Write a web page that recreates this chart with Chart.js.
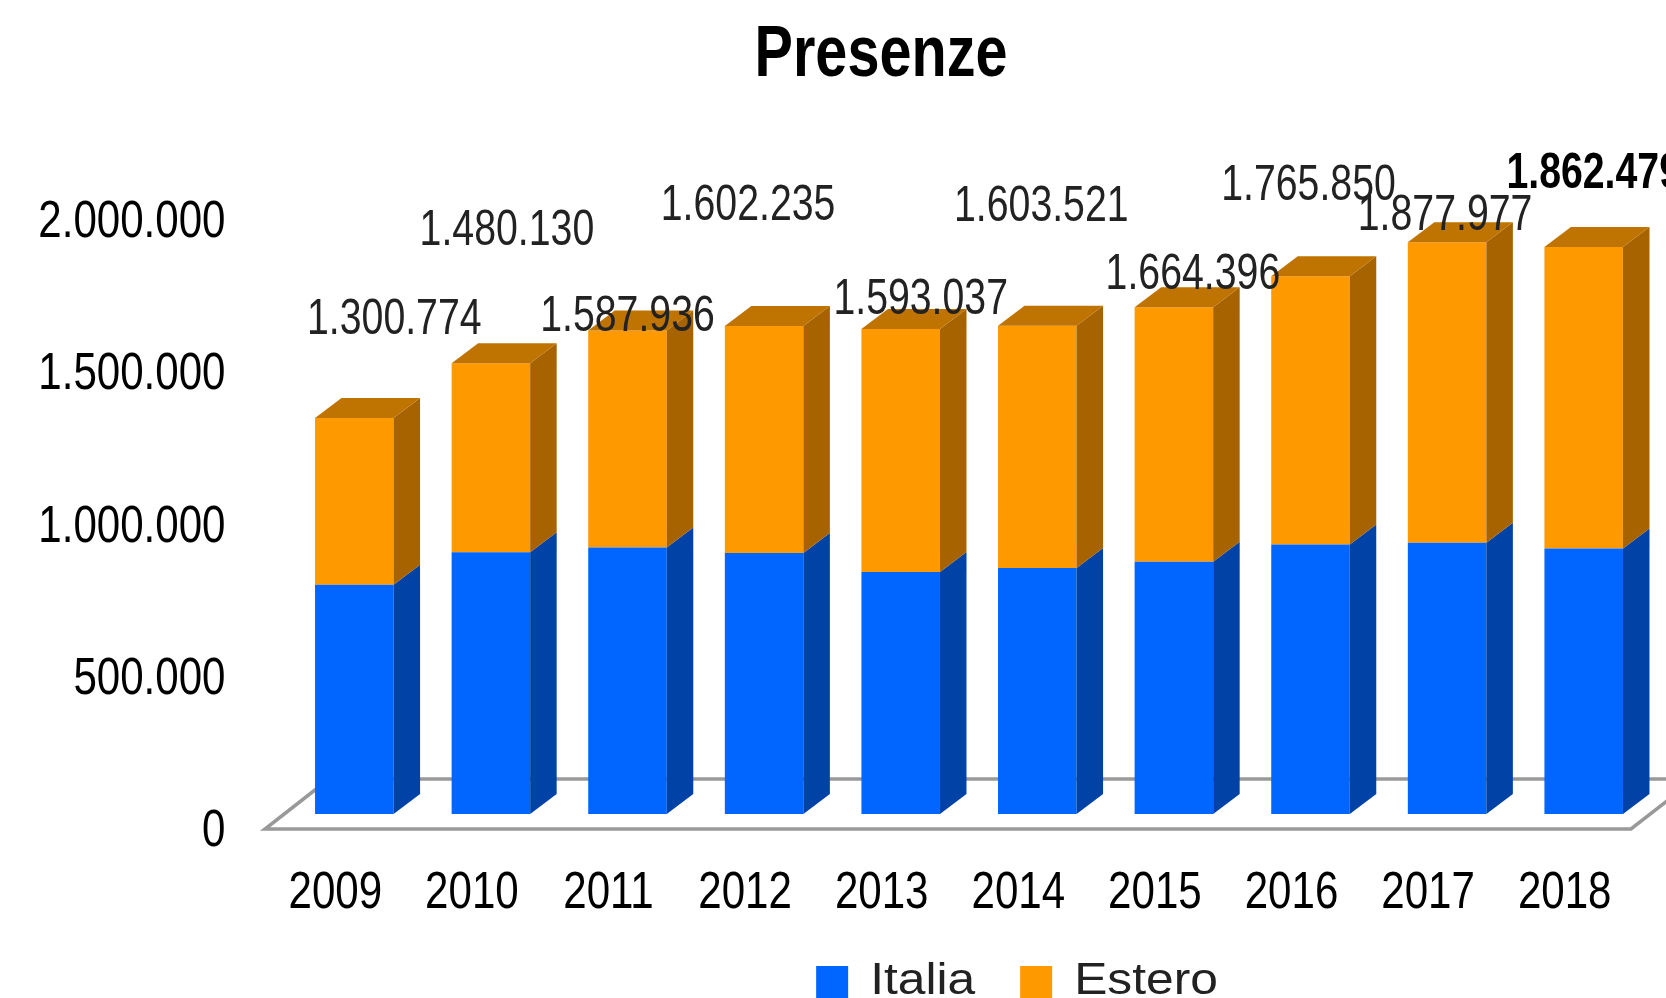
<!DOCTYPE html>
<html><head><meta charset="utf-8">
<style>html,body{margin:0;padding:0;background:#fff}#w{width:1666px;height:998px}</style>
<script src="https://cdn.jsdelivr.net/npm/chart.js@4/dist/chart.umd.min.js"></script>
</head><body><div id="w"><canvas id="c"></canvas></div>
<script>
const years = ['2009','2010','2011','2012','2013','2014','2015','2016','2017','2018'];
const italia = [753000,860000,875000,857000,795000,808000,828000,885000,891000,872000];
const estero = [547774,620130,712936,745235,798037,795521,836396,880850,986977,990479];
const totali = [1300774,1480130,1587936,1602235,1593037,1603521,1664396,1765850,1877977,1862479];
const yTicks = [0,500000,1000000,1500000,2000000];
const labelDx = [40,16,0,-16,20,4,19,-2,-2,10];
const labelDy = [-98,-132,-13,-120,-29,-119,-32,-90,-26,-73];
const FONT = '"Liberation Sans",Arial,sans-serif';
const fmt = v => String(v).replace(/\B(?=(\d{3})+$)/g,'.');
const DX = 26.5, DY = 20;
const sideCol = {Italia:'#0042a6',Estero:'#a66300'};
const topCol = '#bf7300';
// The reference text is condensed horizontally (and the legend stretched): width factor per font size
const widthFactor = {72:.8, 51:.825, 50:.785, 44:1.13};
const legendGap = {Italia:31};

const canvas = document.getElementById('c');
const ctx2d = canvas.getContext('2d');
const rawFill = ctx2d.fillText.bind(ctx2d);
const rawMeasure = ctx2d.measureText.bind(ctx2d);
const factor = () => { const m = /(\d+(?:\.\d+)?)px/.exec(ctx2d.font); return (m && widthFactor[parseInt(m[1])]) || 1; };
ctx2d.fillText = function(t,x,y){
  const sx = factor();
  ctx2d.save(); ctx2d.translate(x,y); ctx2d.scale(sx,1); rawFill(t,0,0); ctx2d.restore();
};
ctx2d.measureText = function(t){
  const w = rawMeasure(t).width*factor() + (legendGap[t]||0);
  return {width:w};
};

const scene = {
  id:'scene',
  afterLayout(chart){
    chart.titleBlock.left += 55; chart.titleBlock.right += 55;
    chart.legend.left += 191; chart.legend.right += 191;
    chart.legend.top += 16; chart.legend.bottom += 16;
  },
  beforeDatasetsDraw(chart){
    const c = chart.ctx, a = chart.chartArea, y0 = chart.scales.y.getPixelForValue(0);
    c.save();
    c.strokeStyle='#999'; c.lineWidth=3.5; c.lineJoin='miter';
    c.beginPath();
    c.moveTo(a.left+43, y0-35); c.lineTo(a.left-21, y0+15);
    c.lineTo(a.right-21, y0+15); c.lineTo(a.right+43, y0-35);
    c.closePath();
    c.stroke();
    c.restore();
  },
  afterDatasetsDraw(chart){
    const c = chart.ctx;
    c.save();
    chart.data.datasets.forEach((ds,i)=>{
      chart.getDatasetMeta(i).data.forEach(el=>{
        const p = el.getProps(['x','y','base','width'],true);
        const r = p.x+p.width/2, l = p.x-p.width/2;
        c.fillStyle = sideCol[ds.label];
        c.beginPath();c.moveTo(r,p.y);c.lineTo(r+DX,p.y-DY);c.lineTo(r+DX,p.base-DY);c.lineTo(r,p.base);c.closePath();c.fill();
        if(i===chart.data.datasets.length-1){
          c.fillStyle = topCol;
          c.beginPath();c.moveTo(l,p.y);c.lineTo(l+DX,p.y-DY);c.lineTo(r+DX,p.y-DY);c.lineTo(r,p.y);c.closePath();c.fill();
        }
      });
    });
    c.textAlign='center';c.textBaseline='middle';
    totali.forEach((t,i)=>{
      const x = chart.scales.x.getPixelForValue(i)+labelDx[i];
      const y = chart.scales.y.getPixelForValue(t)+labelDy[i];
      const last = i===totali.length-1;
      c.font=(last?'bold ':'')+'50px '+FONT;
      c.fillStyle=last?'#000':'#222';
      c.fillText(fmt(t),x,y);
    });
    c.restore();
  }
};

new Chart(canvas,{
  type:'bar',
  data:{labels:years,datasets:[
    {label:'Italia',data:italia,backgroundColor:'#0066ff'},
    {label:'Estero',data:estero,backgroundColor:'#ff9900'}
  ]},
  plugins:[scene],
  options:{
    responsive:true,maintainAspectRatio:false,animation:false,
    layout:{padding:{left:0,right:14,top:0,bottom:0}},
    datasets:{bar:{barPercentage:.575,categoryPercentage:1}},
    plugins:{
      tooltip:{enabled:false},
      title:{display:true,text:'Presenze',color:'#000',font:{family:FONT,size:72,weight:'bold',lineHeight:1.2},padding:{top:13,bottom:105.6}},
      legend:{position:'bottom',labels:{color:'#222',font:{family:FONT,size:44},boxWidth:32,boxHeight:32,padding:14}}
    },
    scales:{
      x:{stacked:true,grid:{display:false},border:{display:false},
        ticks:{color:'#000',font:{family:FONT,size:51},labelOffset:-19,padding:41,maxRotation:0,autoSkip:false},
        afterFit:s=>{s.height=116;s.paddingLeft=0;s.paddingRight=0}},
      y:{stacked:true,min:0,max:2000000,grid:{display:false},border:{display:false},
        afterBuildTicks:s=>{s.ticks=yTicks.map(v=>({value:v}))},
        ticks:{color:'#000',font:{family:FONT,size:51},padding:52.5,labelOffset:18,callback:v=>fmt(v)},
        afterFit:s=>{s.width=286;s.paddingTop=0;s.paddingBottom=0}}
    }
  }
});
</script></body></html>
